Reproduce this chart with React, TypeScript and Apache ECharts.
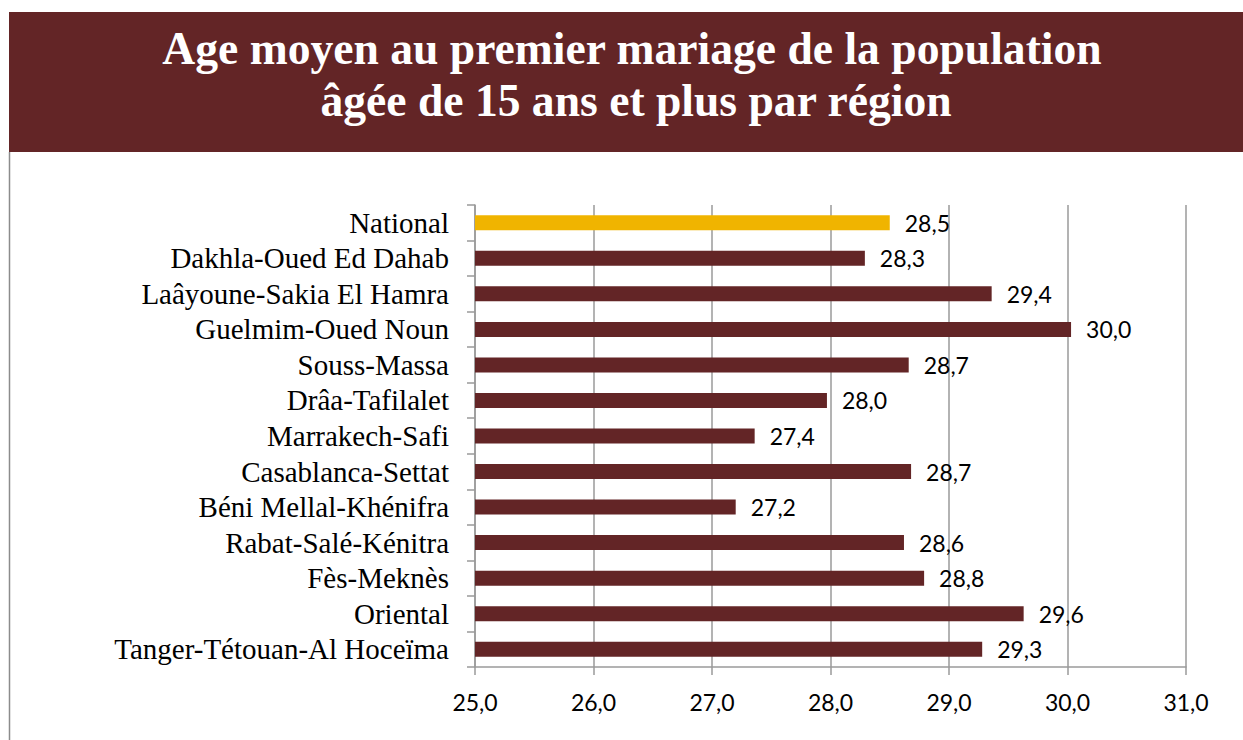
import React, { useEffect, useRef } from "react";
import * as echarts from "echarts";

const categories: string[] = [
  "National",
  "Dakhla-Oued Ed Dahab",
  "Laâyoune-Sakia El Hamra",
  "Guelmim-Oued Noun",
  "Souss-Massa",
  "Drâa-Tafilalet",
  "Marrakech-Safi",
  "Casablanca-Settat",
  "Béni Mellal-Khénifra",
  "Rabat-Salé-Kénitra",
  "Fès-Meknès",
  "Oriental",
  "Tanger-Tétouan-Al Hoceïma",
];
const values: number[] = [28.5, 28.29, 29.36, 30.03, 28.66, 27.97, 27.36, 28.68, 27.2, 28.62, 28.79, 29.63, 29.28];
const titleLine1 = "Age moyen au premier mariage de la population";
const titleLine2 = "âgée de 15 ans et plus par région";
const xMin = 25;
const xMax = 31;
const xStep = 1;

const BROWN = "#632526";
const GOLD = "#F0B400";
const GRID = "#9a9a9a";

export default function App() {
  const ref = useRef<HTMLDivElement>(null);
  useEffect(() => {
    if (!ref.current) return;
    const chart = echarts.init(ref.current, undefined, { renderer: "svg" });
    const fmt = (v: number) => v.toFixed(1).replace(".", ",");
    const titleFont = "bold 45.6px 'Liberation Serif'";
    chart.setOption({
      animation: false,
      graphic: [
        { type: "rect", shape: { x: 9, y: 12, width: 1240, height: 140 }, style: { fill: BROWN }, z: 0 },
        { type: "line", shape: { x1: 9.5, y1: 152, x2: 9.5, y2: 740 }, style: { stroke: "#8c8c8c", lineWidth: 1.5 } },
        {
          type: "text",
          x: 632,
          y: 48,
          style: { text: titleLine1, fill: "#ffffff", font: titleFont, align: "center", verticalAlign: "middle" },
          z: 10,
        },
        {
          type: "text",
          x: 636,
          y: 100,
          style: { text: titleLine2, fill: "#ffffff", font: titleFont, align: "center", verticalAlign: "middle" },
          z: 10,
        },
      ],
      grid: { left: 475, right: 57, top: 205, bottom: 73, containLabel: false },
      xAxis: {
        type: "value",
        min: xMin,
        max: xMax,
        interval: xStep,
        axisLine: { show: true, lineStyle: { color: GRID, width: 1.5 } },
        axisTick: { show: true, length: 8, lineStyle: { color: GRID, width: 1.5 } },
        splitLine: { show: true, lineStyle: { color: GRID, width: 1.5 } },
        axisLabel: {
          formatter: (v: number) => fmt(v),
          color: "#000",
          fontFamily: "Lato",
          fontSize: 23,
          margin: 23,
        },
      },
      yAxis: {
        type: "category",
        data: categories,
        inverse: true,
        axisLine: { show: true, lineStyle: { color: GRID, width: 1.5 } },
        axisTick: { show: true, length: 8, lineStyle: { color: GRID, width: 1.5 } },
        axisLabel: {
          interval: 0,
          color: "#000",
          fontFamily: "Liberation Serif",
          fontSize: 29,
          margin: 26,
        },
      },
      series: [
        {
          type: "bar",
          data: values.map((v, i) => ({
            value: v,
            itemStyle: { color: i === 0 ? GOLD : BROWN },
          })),
          barWidth: 15,
          label: {
            show: true,
            position: "right",
            distance: 15,
            formatter: (p: any) => fmt(p.value),
            color: "#000",
            fontFamily: "Lato",
            fontSize: 23,
          },
        },
      ],
    });
    return () => chart.dispose();
  }, []);
  return (
    <div
      ref={ref}
      style={{ position: "fixed", left: 0, top: 0, width: 1243, height: 740, background: "#fff" }}
    />
  );
}
